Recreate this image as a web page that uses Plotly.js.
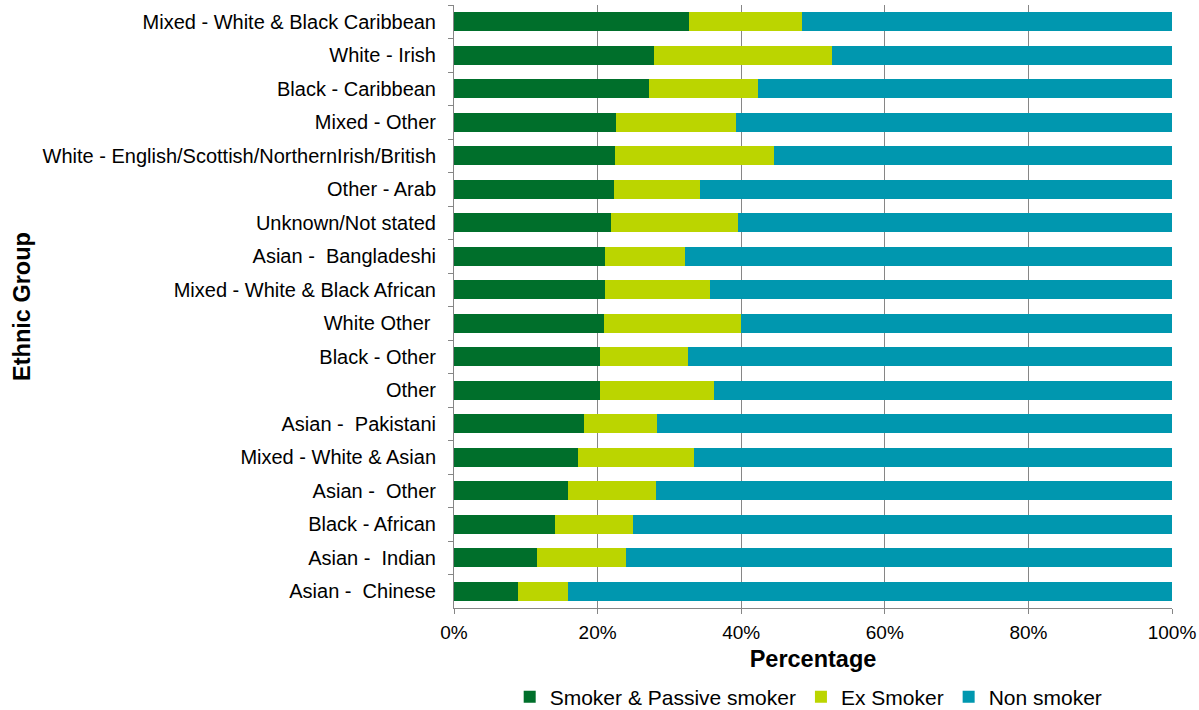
<!DOCTYPE html>
<html>
<head>
<meta charset="utf-8">
<script src="https://cdn.plot.ly/plotly-3.0.1.min.js"></script>
<style>html,body{margin:0;padding:0;background:#fff;}#chart{width:1199px;height:710px;}</style>
</head>
<body>
<div id="chart"></div>
<script>
const categories = [
  "Mixed - White & Black Caribbean",
  "White - Irish",
  "Black - Caribbean",
  "Mixed - Other",
  "White - English/Scottish/NorthernIrish/British",
  "Other - Arab",
  "Unknown/Not stated",
  "Asian -  Bangladeshi",
  "Mixed - White & Black African",
  "White Other ",
  "Black - Other",
  "Other",
  "Asian -  Pakistani",
  "Mixed - White & Asian",
  "Asian -  Other",
  "Black - African",
  "Asian -  Indian",
  "Asian -  Chinese"
];
const smoker = [32.7, 27.8, 27.1, 22.5, 22.4, 22.3, 21.9, 21.0, 21.0, 20.9, 20.3, 20.3, 18.1, 17.2, 15.9, 14.0, 11.5, 8.9];
const exSmoker = [15.7, 24.8, 15.2, 16.8, 22.2, 12.0, 17.6, 11.2, 14.6, 19.1, 12.3, 15.9, 10.2, 16.2, 12.3, 10.9, 12.5, 7.0];
const nonSmoker = [51.6, 47.4, 57.7, 60.7, 55.4, 65.7, 60.5, 67.8, 64.4, 60.0, 67.4, 63.8, 71.7, 66.6, 71.8, 75.1, 76.0, 84.1];
const seriesNames = ["Smoker & Passive smoker", "Ex Smoker", "Non smoker"];
const xTickVals = [0, 20, 40, 60, 80, 100];
const xTickText = ["0%", "20%", "40%", "60%", "80%", "100%"];

const colors = ["#006F2B", "#BBD500", "#0097AF"];
const font = "Liberation Sans, Arial, sans-serif";
const allSeries = [smoker, exSmoker, nonSmoker];
const traces = allSeries.map((vals, i) => ({
  type: "bar",
  orientation: "h",
  name: seriesNames[i],
  y: categories,
  x: vals,
  marker: {color: colors[i], line: {width: 0}},
  hoverinfo: "none"
}));

const layout = {
  width: 1199, height: 710,
  margin: {l: 454, r: 27, t: 5, b: 102},
  barmode: "stack",
  bargap: 0.44,
  paper_bgcolor: "#fff",
  plot_bgcolor: "#fff",
  font: {family: font, size: 19, color: "#000"},
  xaxis: {
    automargin: false,
    range: [0, 100],
    tickvals: xTickVals,
    ticktext: xTickText,
    showgrid: true,
    gridcolor: "#868686",
    gridwidth: 1,
    zeroline: false,
    showline: true,
    linecolor: "#868686",
    ticks: "outside",
    ticklen: 5,
    tickcolor: "#868686",
    tickfont: {family: font, size: 19},
    ticklabelstandoff: 2,
    title: {text: "<b>Percentage</b>", font: {family: font, size: 23.5}, standoff: 8}
  },
  yaxis: {
    automargin: false,
    autorange: "reversed",
    type: "category",
    showline: true,
    linecolor: "#868686",
    ticks: "outside",
    tickson: "boundaries",
    ticklen: 5,
    tickcolor: "#868686",
    showgrid: false,
    tickfont: {family: font, size: 20},
    ticklabelstandoff: 13,
    title: {text: "<b>Ethnic Group</b>", font: {family: font, size: 23.5}, standoff: 5}
  },
  showlegend: true,
  legend: {
    orientation: "h",
    xref: "paper", x: 0.494, xanchor: "center",
    yref: "container", y: 0.018, yanchor: "middle",
    font: {family: font, size: 21},
    itemwidth: 30,
    traceorder: "normal",
    itemclick: false
  },
  hovermode: false
};

Plotly.newPlot("chart", traces, layout, {displayModeBar: false, staticPlot: true});
</script>
</body>
</html>
